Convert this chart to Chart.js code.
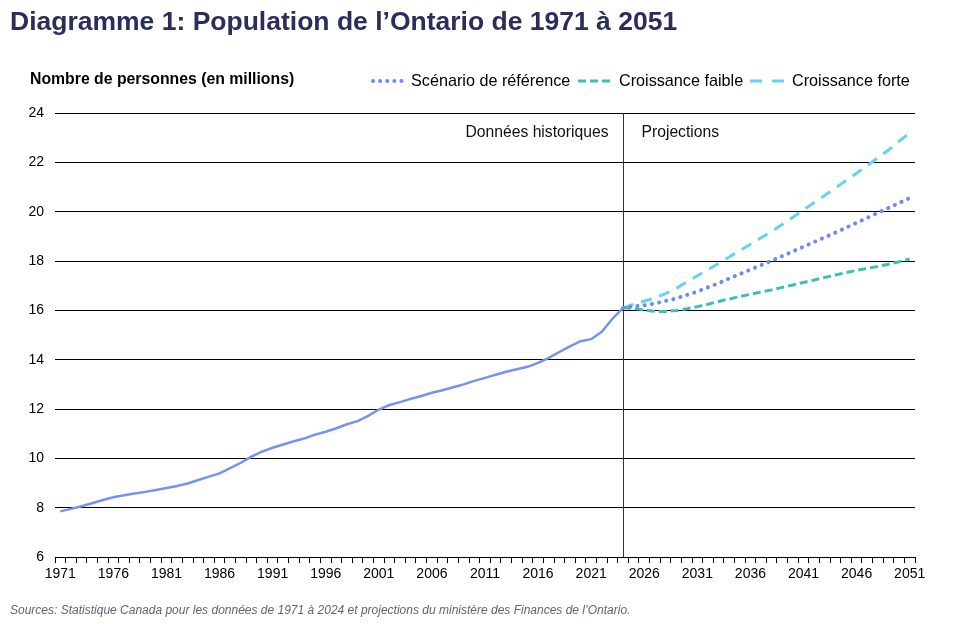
<!DOCTYPE html>
<html>
<head>
<meta charset="utf-8">
<script src="https://cdn.jsdelivr.net/npm/chart.js@4.4.1/dist/chart.umd.min.js"></script>
<style>
html,body{margin:0;padding:0;background:#fff;}
#wrap{position:relative;width:960px;height:624px;overflow:hidden;font-family:"Liberation Sans",Arial,sans-serif;color:#000;}
#cbox{position:absolute;left:0;top:0;width:960px;height:624px;}
.title{position:absolute;left:10px;top:5px;font-size:26.5px;line-height:32px;font-weight:bold;color:#2b2d5c;white-space:nowrap;}
.ytitle{position:absolute;left:30px;top:70px;font-size:15.8px;line-height:18px;font-weight:bold;white-space:nowrap;}
.leg{position:absolute;top:71px;font-size:16.2px;line-height:19px;white-space:nowrap;}
.legs{position:absolute;top:78px;}
.source{position:absolute;left:10px;top:603px;font-size:12px;line-height:14px;font-style:italic;color:#5f6570;white-space:nowrap;}
</style>
</head>
<body>
<div id="wrap">
  <div id="cbox"><canvas id="c"></canvas></div>
  <div class="title">Diagramme 1: Population de l’Ontario de 1971 à 2051</div>
  <div class="ytitle">Nombre de personnes (en millions)</div>
  <svg class="legs" style="left:370px" width="38" height="6"><line x1="3" y1="3" x2="36" y2="3" stroke="#6e8bf0" stroke-width="4" stroke-linecap="round" stroke-dasharray="0.1 7"/></svg>
  <div class="leg" style="left:411px">Scénario de référence</div>
  <svg class="legs" style="left:578px" width="36" height="6"><line x1="0" y1="3" x2="35" y2="3" stroke="#3dbfb5" stroke-width="3" stroke-dasharray="8 4"/></svg>
  <div class="leg" style="left:619px">Croissance faible</div>
  <svg class="legs" style="left:750px" width="36" height="6"><line x1="0" y1="3" x2="36" y2="3" stroke="#62d2f7" stroke-width="3" stroke-dasharray="12 10"/></svg>
  <div class="leg" style="left:792px">Croissance forte</div>
  <div class="source">Sources: Statistique Canada pour les données de 1971 à 2024 et projections du ministère des Finances de l’Ontario.</div>
</div>
<script>
// ---- Data ----
const histYears = [];
for (let y = 1971; y <= 2024; y++) histYears.push(y);
const projYears = [];
for (let y = 2024; y <= 2051; y++) projYears.push(y);

const historical = [
  7.85, 7.95, 8.06, 8.18, 8.31, 8.42, 8.50, 8.57, 8.64, 8.72,
  8.80, 8.88, 8.98, 9.12, 9.26, 9.39, 9.60, 9.82, 10.07, 10.27,
  10.43, 10.56, 10.69, 10.81, 10.96, 11.08, 11.22, 11.38, 11.51, 11.72,
  11.98, 12.16, 12.28, 12.41, 12.53, 12.66, 12.76, 12.88, 13.00, 13.14,
  13.26, 13.39, 13.51, 13.61, 13.71, 13.87, 14.07, 14.31, 14.54, 14.75,
  14.83, 15.13, 15.66, 16.10
];
const reference = [
  16.10, 16.17, 16.20, 16.28, 16.38, 16.48, 16.62, 16.76, 16.93, 17.10,
  17.29, 17.47, 17.65, 17.83, 18.01, 18.20, 18.39, 18.58, 18.77, 18.96,
  19.15, 19.35, 19.55, 19.75, 19.95, 20.15, 20.35, 20.55
];
const lowGrowth = [
  16.10, 16.08, 16.01, 15.96, 15.95, 15.99, 16.06, 16.15, 16.25, 16.36,
  16.46, 16.56, 16.65, 16.74, 16.83, 16.93, 17.03, 17.13, 17.23, 17.33,
  17.43, 17.53, 17.62, 17.70, 17.78, 17.87, 17.97, 18.08
];
const highGrowth = [
  16.10, 16.24, 16.37, 16.50, 16.68, 16.88, 17.15, 17.40, 17.65, 17.90,
  18.16, 18.42, 18.68, 18.94, 19.20, 19.48, 19.77, 20.07, 20.37, 20.66,
  20.96, 21.26, 21.56, 21.87, 22.18, 22.50, 22.85, 23.20
];
const yTicks = [6, 8, 10, 12, 14, 16, 18, 20, 22, 24];
const projectionStart = 2024;

// ---- Build library tables ----
const allYears = [];
for (let y = 1971; y <= 2051; y++) allYears.push(String(y));
function place(years, vals) {
  const arr = allYears.map(() => null);
  years.forEach((y, i) => { arr[allYears.indexOf(String(y))] = vals[i]; });
  return arr;
}

const annot = {
  id: 'annot',
  beforeDatasetsDraw(chart) {
    const ctx = chart.ctx, xs = chart.scales.x, a = chart.chartArea;
    const x = Math.round(xs.getPixelForValue(allYears.indexOf(String(projectionStart)))) + 0.5;
    ctx.save();
    ctx.strokeStyle = '#333';
    ctx.lineWidth = 1;
    ctx.beginPath();
    ctx.moveTo(x, a.top);
    ctx.lineTo(x, a.bottom);
    ctx.stroke();
    ctx.fillStyle = '#111';
    ctx.font = '15.7px "Liberation Sans", Arial, sans-serif';
    ctx.textBaseline = 'middle';
    ctx.textAlign = 'right';
    ctx.fillText('Données historiques', x - 15, a.top + 20);
    ctx.textAlign = 'left';
    ctx.fillText('Projections', x + 18, a.top + 20);
    ctx.restore();
  }
};

const FONT = '"Liberation Sans", Arial, sans-serif';
new Chart(document.getElementById('c'), {
  type: 'line',
  data: {
    labels: allYears,
    datasets: [
      { label: 'Données historiques', data: place(histYears, historical), borderColor: '#7393f2', borderWidth: 2.5, pointRadius: 0, tension: 0, order: 0 },
      { label: 'Scénario de référence', data: place(projYears, reference), borderColor: '#6e8bf0', borderWidth: 4, borderDash: [0.1, 7.2], borderCapStyle: 'round', pointRadius: 0, tension: 0, order: 1 },
      { label: 'Croissance faible', data: place(projYears, lowGrowth), borderColor: '#3dbfb5', borderWidth: 3, borderDash: [8, 4], pointRadius: 0, tension: 0, order: 2 },
      { label: 'Croissance forte', data: place(projYears, highGrowth), borderColor: '#62d2f7', borderWidth: 3, borderDash: [11, 8], pointRadius: 0, tension: 0, order: 3 }
    ]
  },
  options: {
    responsive: true,
    maintainAspectRatio: false,
    animation: false,
    layout: { padding: { left: 0, right: 45, top: 113, bottom: 37 } },
    plugins: { legend: { display: false }, tooltip: { enabled: false }, title: { display: false } },
    scales: {
      x: {
        type: 'category',
        offset: true,
        grid: { offset: true, drawOnChartArea: false, drawTicks: true, tickLength: 6, color: '#000', lineWidth: 1 },
        border: { display: true, color: '#000', width: 1 },
        ticks: {
          autoSkip: false, maxRotation: 0, minRotation: 0, padding: 3, color: '#000',
          font: { family: FONT, size: 14 },
          callback: function (v, i) { return i % 5 === 0 ? allYears[i] : ''; }
        },
        afterFit(s) { s.height = 30; }
      },
      y: {
        type: 'linear',
        min: yTicks[0], max: yTicks[yTicks.length - 1],
        afterBuildTicks(s) { s.ticks = yTicks.map(v => ({ value: v })); },
        grid: { color: '#000', lineWidth: 1, drawTicks: false },
        border: { display: false },
        ticks: { padding: 11, color: '#000', font: { family: FONT, size: 14 } },
        afterFit(s) { s.width = 55; }
      }
    }
  },
  plugins: [annot]
});
</script>
</body>
</html>
